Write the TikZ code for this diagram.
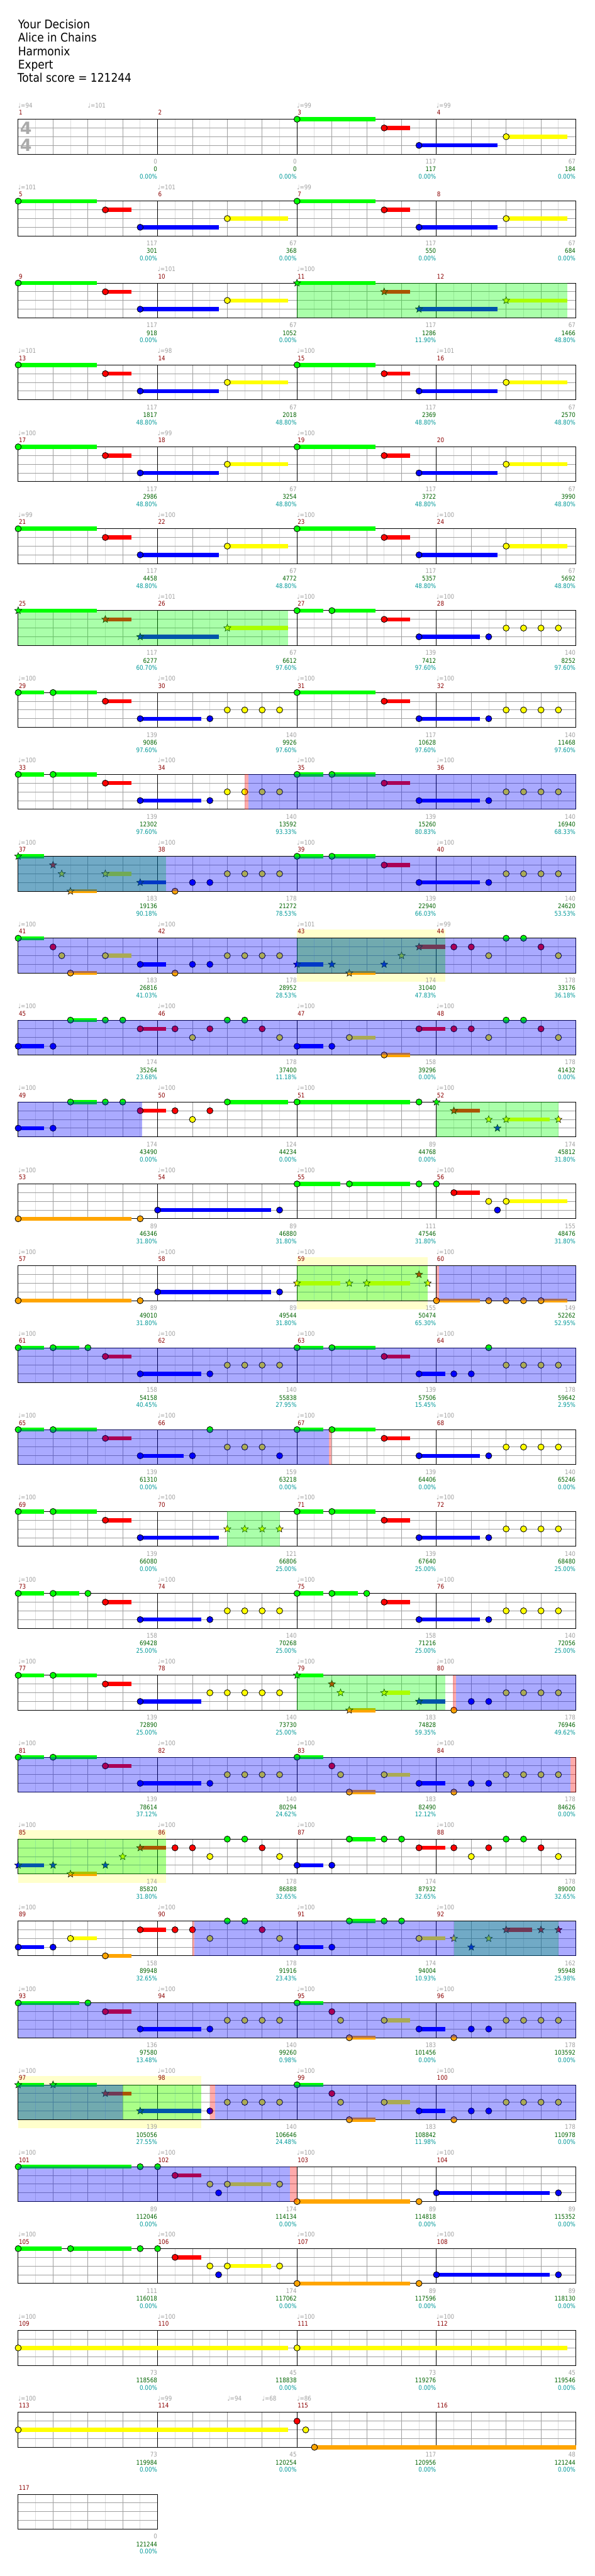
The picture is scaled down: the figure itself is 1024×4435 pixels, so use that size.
\documentclass[tikz,border=0pt]{standalone}
\usepackage{fontspec}
\setmainfont{DejaVu Sans}
\newfontfamily\smallfnt[FakeStretch=0.86]{DejaVu Sans}
\newfontfamily\titlefont[FakeStretch=0.9]{DejaVu Sans}
\usetikzlibrary{shapes.geometric}
\definecolor{cG}{RGB}{0,255,0}
\definecolor{cR}{RGB}{255,0,0}
\definecolor{cY}{RGB}{255,255,0}
\definecolor{cB}{RGB}{0,0,255}
\definecolor{cO}{RGB}{255,165,0}
\definecolor{lgl}{RGB}{221,221,221}
\definecolor{mgl}{RGB}{160,160,160}
\definecolor{tgray}{RGB}{160,160,160}
\definecolor{tsgray}{RGB}{170,170,170}
\definecolor{mred}{RGB}{139,0,0}
\definecolor{dgreen}{RGB}{0,100,0}
\definecolor{pcol}{RGB}{0,153,153}
\definecolor{paley}{RGB}{255,255,204}
\newcounter{nk}
\def\LG{0}\def\LR{15}\def\LY{30}\def\LB{45}\def\LO{60}
\tikzset{
 gl1/.style={draw=lgl,line width=1pt},
 gl2/.style={draw=mgl,line width=1pt},
 gl3/.style={draw=black,line width=1pt},
 nstar/.style={star,star points=5,star point ratio=2.3,minimum size=13pt,inner sep=0pt,draw=black,line width=0.6pt},
 smalltxt/.style={font=\smallfnt\fontsize{11}{11}\selectfont,inner sep=0pt},
 tempo/.style={smalltxt,text=tgray,anchor=base west},
 mnumst/.style={smalltxt,text=mred,anchor=base west},
 lgr/.style={smalltxt,text=tgray,anchor=base east},
 lgn/.style={smalltxt,text=dgreen,anchor=base east},
 lpc/.style={smalltxt,text=pcol,anchor=base east},
 ttl/.style={font=\titlefont\fontsize{20.5}{23}\selectfont,anchor=base west,inner sep=0pt,text=black},
 tsig/.style={font=\fontsize{29}{29}\bfseries\selectfont,text=tsgray,inner sep=0pt},
}
\newcommand\setrow[1]{\pgfmathsetmacro\rT{205.3+141*(#1-1)}}
\newcommand\grid[1]{%
 \pgfmathtruncatemacro\nb{4*#1}%
 \foreach \k in {1,...,\nb}{\draw[gl1] ({31.3+60*\k-30},\rT) -- ({31.3+60*\k-30},{\rT+60});}%
 \pgfmathtruncatemacro\nbm{\nb-1}%
 \foreach \k in {1,...,\nbm}{\draw[gl2] ({31.3+60*\k},\rT) -- ({31.3+60*\k},{\rT+60});}%
 \foreach \l in {15,30,45}{\draw[gl2] (31.3,{\rT+\l}) -- ({31.3+240*#1},{\rT+\l});}%
 \ifnum#1>1 \pgfmathtruncatemacro\nm{#1-1}\foreach \k in {1,...,\nm}{\draw[gl3] ({31.3+240*\k},\rT) -- ({31.3+240*\k},{\rT+60});}\fi
 \draw[gl3] (31.3,\rT) rectangle ({31.3+240*#1},{\rT+60});}
\newcommand\mnm[2]{\stepcounter{nk}\node[mnumst] (a\thenk) at ({31.3+240*(#1)+1},{\rT-7.6}) {#2};}
\newcommand\mns[1]{\foreach \q in {0,1,2,3}{\pgfmathtruncatemacro\mm{4*#1-3+\q}\mnm{\q}{\mm}}}
\newcommand\tmp[2]{\stepcounter{nk}\node[tempo] (a\thenk) at ({31.3+15*(#1)},{\rT-20}) {\symbol{"2669}=#2};}
\newcommand\tall{\tmp{0}{100}\tmp{16}{100}\tmp{32}{100}\tmp{48}{100}}
\newcommand\lb[4]{%
 \stepcounter{nk}\node[lgr] (a\thenk) at ({31.3+240*(#1)-0.5},{\rT+76.7}) {#2};%
 \stepcounter{nk}\node[lgn] (a\thenk) at ({31.3+240*(#1)-0.5},{\rT+90}) {#3};%
 \stepcounter{nk}\node[lpc] (a\thenk) at ({31.3+240*(#1)-0.5},{\rT+102.7}) {#4\%};}
\newcommand\nH[2]{\fill[c#2,draw=black,line width=0.9pt] ({31.3+15*(#1)},{\rT+\csname L#2\endcsname}) circle[radius=5.3];}
\newcommand\nS[2]{\stepcounter{nk}\node[nstar,fill=c#2] (a\thenk) at ({31.3+15*(#1)},{\rT+\csname L#2\endcsname}) {};}
\newcommand\nX[3]{\csname n#1\endcsname{#2}{#3}}
\newcommand\nU[3]{\fill[c#3] ({31.3+15*(#1)},{\rT+\csname L#3\endcsname-3.5}) rectangle ({31.3+15*(#2)},{\rT+\csname L#3\endcsname+3.5});}
\newcommand\ovG[2]{\fill[green,fill opacity=0.3333] ({31.3+15*(#1)},\rT) rectangle ({31.3+15*(#2)},{\rT+60});}
\newcommand\ovB[2]{\fill[blue,fill opacity=0.3333] ({31.3+15*(#1)},\rT) rectangle ({31.3+15*(#2)},{\rT+60});}
\newcommand\ovR[2]{\fill[red,fill opacity=0.3333] ({31.3+15*(#1)},\rT) rectangle ({31.3+15*(#2)},{\rT+60});}
\newcommand\pale[2]{\fill[paley] ({31.3+15*(#1)},{\rT-15}) rectangle ({31.3+15*(#2)},{\rT+75});}
\newcommand\Ys[1]{\nH{#1+24}{Y}\nH{#1+26}{Y}\nH{#1+28}{Y}\nH{#1+30}{Y}}
\newcommand\patA[2]{\nU{#1}{#1+9}{G}\nU{#1+10}{#1+13}{R}\nU{#1+14}{#1+23}{B}\nU{#1+24}{#1+31}{Y}%
 \nX{#2}{#1}{G}\nX{#2}{#1+10}{R}\nX{#2}{#1+14}{B}\nX{#2}{#1+24}{Y}}
\newcommand\patB[2]{\nU{#1}{#1+3}{G}\nU{#1+4}{#1+9}{G}\nU{#1+10}{#1+13}{R}\nU{#1+14}{#1+21}{B}%
 \nX{#2}{#1}{G}\nX{#2}{#1+4}{G}\nX{#2}{#1+10}{R}\nX{#2}{#1+14}{B}\nH{#1+22}{B}\Ys{#1}}
\newcommand\patBp[1]{\nU{#1}{#1+9}{G}\nU{#1+10}{#1+13}{R}\nU{#1+14}{#1+21}{B}%
 \nH{#1}{G}\nH{#1+10}{R}\nH{#1+14}{B}\nH{#1+22}{B}\Ys{#1}}
\newcommand\patC[2]{\nU{#1}{#1+3}{G}\nU{#1+6}{#1+9}{O}\nU{#1+10}{#1+13}{Y}\nU{#1+14}{#1+17}{B}%
 \nX{#2}{#1}{G}\nX{#2}{#1+4}{R}\nX{#2}{#1+5}{Y}\nX{#2}{#1+6}{O}\nX{#2}{#1+10}{Y}\nX{#2}{#1+14}{B}%
 \nH{#1+18}{O}\nH{#1+20}{B}\nH{#1+22}{B}\Ys{#1}}
\newcommand\patD[1]{\nU{#1}{#1+3}{B}\nU{#1+6}{#1+9}{G}\nU{#1+14}{#1+17}{R}%
 \nH{#1}{B}\nH{#1+4}{B}\nH{#1+6}{G}\nH{#1+10}{G}\nH{#1+12}{G}\nH{#1+14}{R}\nH{#1+18}{R}\nH{#1+20}{Y}%
 \nH{#1+22}{R}\nH{#1+24}{G}\nH{#1+26}{G}\nH{#1+28}{R}\nH{#1+30}{Y}}
\newcommand\patE[1]{\nU{#1}{#1+3}{B}\nU{#1+6}{#1+9}{Y}\nU{#1+10}{#1+13}{O}\nU{#1+14}{#1+17}{R}%
 \nH{#1}{B}\nH{#1+4}{B}\nH{#1+6}{Y}\nH{#1+10}{O}\nH{#1+14}{R}\nH{#1+18}{R}\nH{#1+20}{R}\nH{#1+22}{Y}%
 \nH{#1+24}{G}\nH{#1+26}{G}\nH{#1+28}{R}\nH{#1+30}{Y}}
\newcommand\patF[1]{\nU{#1}{#1+3}{G}\nU{#1+4}{#1+7}{G}\nU{#1+10}{#1+13}{R}\nU{#1+14}{#1+21}{B}%
 \nH{#1}{G}\nH{#1+4}{G}\nH{#1+8}{G}\nH{#1+10}{R}\nH{#1+14}{B}\nH{#1+22}{B}\Ys{#1}}
\newcommand\row[1]{\setrow{#1}\grid{4}\mns{#1}}
\begin{document}
\begin{tikzpicture}[x=1pt,y=-1pt]
\fill[white] (0,0) rectangle (1024,4435);
\useasboundingbox (0,0) rectangle (1024,4435);
\node[ttl] (t1) at (31,49.3) {Your Decision};
\node[ttl] (t2) at (31,72.3) {Alice in Chains};
\node[ttl] (t3) at (31,95.3) {Harmonix};
\node[ttl] (t4) at (31,118.3) {Expert};
\node[ttl] (t5) at (30,141.3) {Total score = 121244};
% row 1
\row{1}
\node[tsig] (ts1) at (44.5,{\rT+15}) {4};
\node[tsig] (ts2) at (44.5,{\rT+45}) {4};
\tmp{0}{94}\tmp{8}{101}\tmp{32}{99}\tmp{48}{99}
\patA{32}{H}
\lb{1}{0}{0}{0.00}\lb{2}{0}{0}{0.00}\lb{3}{117}{117}{0.00}\lb{4}{67}{184}{0.00}
% row 2
\row{2}\tmp{0}{101}\tmp{16}{101}\tmp{32}{99}
\patA{0}{H}\patA{32}{H}
\lb{1}{117}{301}{0.00}\lb{2}{67}{368}{0.00}\lb{3}{117}{550}{0.00}\lb{4}{67}{684}{0.00}
% row 3
\row{3}\tmp{16}{101}\tmp{32}{100}
\patA{0}{H}\patA{32}{S}\ovG{32}{63}
\lb{1}{117}{918}{0.00}\lb{2}{67}{1052}{0.00}\lb{3}{117}{1286}{11.90}\lb{4}{67}{1466}{48.80}
% row 4
\row{4}\tmp{0}{101}\tmp{16}{98}\tmp{32}{100}\tmp{48}{101}
\patA{0}{H}\patA{32}{H}
\lb{1}{117}{1817}{48.80}\lb{2}{67}{2018}{48.80}\lb{3}{117}{2369}{48.80}\lb{4}{67}{2570}{48.80}
% row 5
\row{5}\tmp{0}{100}\tmp{16}{99}\tmp{32}{100}
\patA{0}{H}\patA{32}{H}
\lb{1}{117}{2986}{48.80}\lb{2}{67}{3254}{48.80}\lb{3}{117}{3722}{48.80}\lb{4}{67}{3990}{48.80}
% row 6
\row{6}\tmp{0}{99}\tmp{16}{100}\tmp{32}{100}\tmp{48}{100}
\patA{0}{H}\patA{32}{H}
\lb{1}{117}{4458}{48.80}\lb{2}{67}{4772}{48.80}\lb{3}{117}{5357}{48.80}\lb{4}{67}{5692}{48.80}
% row 7
\row{7}\tmp{16}{101}\tmp{32}{100}\tmp{48}{100}
\patA{0}{S}\patB{32}{H}\ovG{0}{31}
\lb{1}{117}{6277}{60.70}\lb{2}{67}{6612}{97.60}\lb{3}{139}{7412}{97.60}\lb{4}{140}{8252}{97.60}
% row 8
\row{8}\tall
\patB{0}{H}\patBp{32}
\lb{1}{139}{9086}{97.60}\lb{2}{140}{9926}{97.60}\lb{3}{117}{10628}{97.60}\lb{4}{140}{11468}{97.60}
% row 9
\row{9}\tall
\patB{0}{H}\patB{32}{H}\ovR{26}{26.43}\ovB{26.43}{64}
\lb{1}{139}{12302}{97.60}\lb{2}{140}{13592}{93.33}\lb{3}{139}{15260}{80.83}\lb{4}{140}{16940}{68.33}
% row 10
\row{10}\tall
\patC{0}{S}\patB{32}{H}\ovG{0}{17}\ovB{0}{64}
\lb{1}{183}{19136}{90.18}\lb{2}{178}{21272}{78.53}\lb{3}{139}{22940}{66.03}\lb{4}{140}{24620}{53.53}
% row 11
\setrow{11}\pale{32}{49}\grid{4}\mns{11}
\tmp{0}{100}\tmp{16}{100}\tmp{32}{101}\tmp{48}{99}
\patC{0}{H}
\nU{32}{35}{B}\nU{38}{41}{O}\nU{46}{49}{R}
\nS{32}{B}\nS{36}{B}\nS{38}{O}\nS{42}{B}\nS{44}{Y}\nS{46}{R}
\nH{50}{R}\nH{52}{R}\nH{54}{Y}\nH{56}{G}\nH{58}{G}\nH{60}{R}\nH{62}{Y}
\ovG{32}{49}\ovB{0}{64}
\lb{1}{183}{26816}{41.03}\lb{2}{178}{28952}{28.53}\lb{3}{174}{31040}{47.83}\lb{4}{178}{33176}{36.18}
% row 12
\row{12}\tall
\patD{0}\patE{32}\ovB{0}{64}
\lb{1}{174}{35264}{23.68}\lb{2}{178}{37400}{11.18}\lb{3}{158}{39296}{0.00}\lb{4}{178}{41432}{0.00}
% row 13
\row{13}\tall
\nU{0}{3}{B}\nU{6}{9}{G}\nU{14}{17}{R}\nU{24}{31}{G}\nU{32}{45}{G}\nU{50}{53}{R}\nU{56}{61}{Y}
\nH{0}{B}\nH{4}{B}\nH{6}{G}\nH{10}{G}\nH{12}{G}\nH{14}{R}\nH{18}{R}\nH{20}{Y}\nH{22}{R}\nH{24}{G}\nH{32}{G}\nH{46}{G}
\nS{48}{G}\nS{50}{R}\nS{54}{Y}\nS{55}{B}\nS{56}{Y}\nS{62}{Y}
\ovB{0}{14.2}\ovG{48}{62}
\lb{1}{174}{43490}{0.00}\lb{2}{124}{44234}{0.00}\lb{3}{89}{44768}{0.00}\lb{4}{174}{45812}{31.80}
% row 14
\row{14}\tall
\nU{0}{13}{O}\nU{16}{29}{B}\nU{32}{37}{G}\nU{38}{45}{G}\nU{50}{53}{R}\nU{56}{63}{Y}
\nH{0}{O}\nH{14}{O}\nH{16}{B}\nH{30}{B}\nH{32}{G}\nH{38}{G}\nH{46}{G}\nH{48}{G}\nH{50}{R}\nH{54}{Y}\nH{55}{B}\nH{56}{Y}
\lb{1}{89}{46346}{31.80}\lb{2}{89}{46880}{31.80}\lb{3}{111}{47546}{31.80}\lb{4}{155}{48476}{31.80}
% row 15
\setrow{15}\pale{32}{47}\grid{4}\mns{15}\tall
\nU{0}{13}{O}\nU{16}{29}{B}\nU{32}{37}{Y}\nU{40}{45}{Y}\nU{48}{53}{O}\nU{60}{63}{O}
\nH{0}{O}\nH{14}{O}\nH{16}{B}\nH{30}{B}
\nS{32}{Y}\nS{38}{Y}\nS{40}{Y}\nS{46}{R}\nS{47}{Y}
\nH{48}{O}\nH{54}{O}\nH{56}{O}\nH{58}{O}\nH{60}{O}
\ovG{32}{47}\ovR{48}{48.3}\ovB{48.3}{64}
\lb{1}{89}{49010}{31.80}\lb{2}{89}{49544}{31.80}\lb{3}{155}{50474}{65.30}\lb{4}{149}{52262}{52.95}
% row 16
\row{16}\tall
\patF{0}
\nU{32}{35}{G}\nU{36}{41}{G}\nU{42}{45}{R}\nU{46}{49}{B}
\nH{32}{G}\nH{36}{G}\nH{42}{R}\nH{46}{B}\nH{50}{B}\nH{52}{B}\nH{54}{G}\Ys{32}
\ovB{0}{64}
\lb{1}{158}{54158}{40.45}\lb{2}{140}{55838}{27.95}\lb{3}{139}{57506}{15.45}\lb{4}{178}{59642}{2.95}
% row 17
\row{17}\tall
\nU{0}{3}{G}\nU{4}{9}{G}\nU{10}{13}{R}\nU{14}{19}{B}
\nH{0}{G}\nH{4}{G}\nH{10}{R}\nH{14}{B}\nH{20}{B}\nH{22}{G}\nH{24}{Y}\nH{26}{Y}\nH{28}{Y}\nH{30}{B}
\patB{32}{H}
\ovB{0}{35.65}\ovR{35.65}{35.96}
\lb{1}{139}{61310}{0.00}\lb{2}{159}{63218}{0.00}\lb{3}{139}{64406}{0.00}\lb{4}{140}{65246}{0.00}
% row 18
\row{18}\tall
\nU{0}{3}{G}\nU{4}{9}{G}\nU{10}{13}{R}\nU{14}{23}{B}
\nH{0}{G}\nH{4}{G}\nH{10}{R}\nH{14}{B}\nS{24}{Y}\nS{26}{Y}\nS{28}{Y}\nS{30}{Y}
\patB{32}{H}
\ovG{24}{30}
\lb{1}{139}{66080}{0.00}\lb{2}{121}{66806}{25.00}\lb{3}{139}{67640}{25.00}\lb{4}{140}{68480}{25.00}
% row 19
\row{19}\tall
\patF{0}\patF{32}
\lb{1}{158}{69428}{25.00}\lb{2}{140}{70268}{25.00}\lb{3}{158}{71216}{25.00}\lb{4}{140}{72056}{25.00}
% row 20
\row{20}\tall
\nU{0}{3}{G}\nU{4}{9}{G}\nU{10}{13}{R}\nU{14}{21}{B}
\nH{0}{G}\nH{4}{G}\nH{10}{R}\nH{14}{B}\nH{22}{Y}\Ys{0}
\patC{32}{S}
\ovG{32}{49}\ovR{49.9}{50.26}\ovB{50.26}{64}
\lb{1}{139}{72890}{25.00}\lb{2}{140}{73730}{25.00}\lb{3}{183}{74828}{59.35}\lb{4}{178}{76946}{49.62}
% row 21
\row{21}\tall
\patB{0}{H}\patC{32}{H}
\ovB{0}{63.35}\ovR{63.35}{64}
\lb{1}{139}{78614}{37.12}\lb{2}{140}{80294}{24.62}\lb{3}{183}{82490}{12.12}\lb{4}{178}{84626}{0.00}
% row 22
\setrow{22}\pale{0}{17}\grid{4}\mns{22}\tall
\nU{0}{3}{B}\nU{6}{9}{O}\nU{14}{17}{R}
\nS{0}{B}\nS{4}{B}\nS{6}{O}\nS{10}{B}\nS{12}{Y}\nS{14}{R}
\nH{18}{R}\nH{20}{R}\nH{22}{Y}\nH{24}{G}\nH{26}{G}\nH{28}{R}\nH{30}{Y}
\patD{32}
\ovG{0}{17}
\lb{1}{174}{85820}{31.80}\lb{2}{178}{86888}{32.65}\lb{3}{174}{87932}{32.65}\lb{4}{178}{89000}{32.65}
% row 23
\row{23}\tall
\patE{0}
\nU{32}{35}{B}\nU{38}{41}{G}\nU{46}{49}{Y}\nU{56}{59}{R}
\nH{32}{B}\nH{36}{B}\nH{38}{G}\nH{42}{G}\nH{44}{G}\nH{46}{Y}
\nS{50}{Y}\nS{52}{B}\nS{54}{Y}\nS{56}{R}\nS{60}{R}\nS{62}{R}
\ovG{50}{62}\ovR{20}{20.2}\ovB{20.2}{64}
\lb{1}{158}{89948}{32.65}\lb{2}{178}{91916}{23.43}\lb{3}{174}{94004}{10.93}\lb{4}{162}{95948}{25.98}
% row 24
\row{24}\tall
\nU{0}{7}{G}\nU{10}{13}{R}\nU{14}{21}{B}
\nH{0}{G}\nH{8}{G}\nH{10}{R}\nH{14}{B}\nH{22}{B}\Ys{0}
\patC{32}{H}
\ovB{0}{64}
\lb{1}{136}{97580}{13.48}\lb{2}{140}{99260}{0.98}\lb{3}{183}{101456}{0.00}\lb{4}{178}{103592}{0.00}
% row 25
\setrow{25}\pale{0}{21}\grid{4}\mns{25}\tall
\patB{0}{S}\patC{32}{H}
\ovG{0}{21}\ovB{0}{12}\ovR{22}{22.6}\ovB{22.6}{64}
\lb{1}{139}{105056}{27.55}\lb{2}{140}{106646}{24.48}\lb{3}{183}{108842}{11.98}\lb{4}{178}{110978}{0.00}
% row 26
\row{26}\tall
\nU{0}{13}{G}\nU{18}{21}{R}\nU{24}{29}{Y}\nU{32}{45}{O}\nU{48}{61}{B}
\nH{0}{G}\nH{14}{G}\nH{16}{G}\nH{18}{R}\nH{22}{Y}\nH{23}{B}\nH{24}{Y}\nH{30}{Y}\nH{32}{O}\nH{46}{O}\nH{48}{B}\nH{62}{B}
\ovB{0}{31.2}\ovR{31.2}{32}
\lb{1}{89}{112046}{0.00}\lb{2}{174}{114134}{0.00}\lb{3}{89}{114818}{0.00}\lb{4}{89}{115352}{0.00}
% row 27
\row{27}\tall
\nU{0}{5}{G}\nU{6}{13}{G}\nU{18}{21}{R}\nU{24}{29}{Y}\nU{32}{45}{O}\nU{48}{61}{B}
\nH{0}{G}\nH{6}{G}\nH{14}{G}\nH{16}{G}\nH{18}{R}\nH{22}{Y}\nH{23}{B}\nH{24}{Y}\nH{30}{Y}\nH{32}{O}\nH{46}{O}\nH{48}{B}\nH{62}{B}
\lb{1}{111}{116018}{0.00}\lb{2}{174}{117062}{0.00}\lb{3}{89}{117596}{0.00}\lb{4}{89}{118130}{0.00}
% row 28
\row{28}\tall
\nU{0}{31}{Y}\nU{32}{63}{Y}\nH{0}{Y}\nH{32}{Y}
\lb{1}{73}{118568}{0.00}\lb{2}{45}{118838}{0.00}\lb{3}{73}{119276}{0.00}\lb{4}{45}{119546}{0.00}
% row 29
\row{29}\tmp{0}{100}\tmp{16}{99}\tmp{24}{94}\tmp{28}{68}\tmp{32}{86}
\nU{0}{31}{Y}\nU{34}{64}{O}\nH{0}{Y}\nH{32}{R}\nH{33}{Y}\nH{34}{O}
\lb{1}{73}{119984}{0.00}\lb{2}{45}{120254}{0.00}\lb{3}{117}{120956}{0.00}\lb{4}{48}{121244}{0.00}
% row 30
\setrow{30}\grid{1}\mnm{0}{117}
\lb{1}{0}{121244}{0.00}
\end{tikzpicture}
\end{document}
